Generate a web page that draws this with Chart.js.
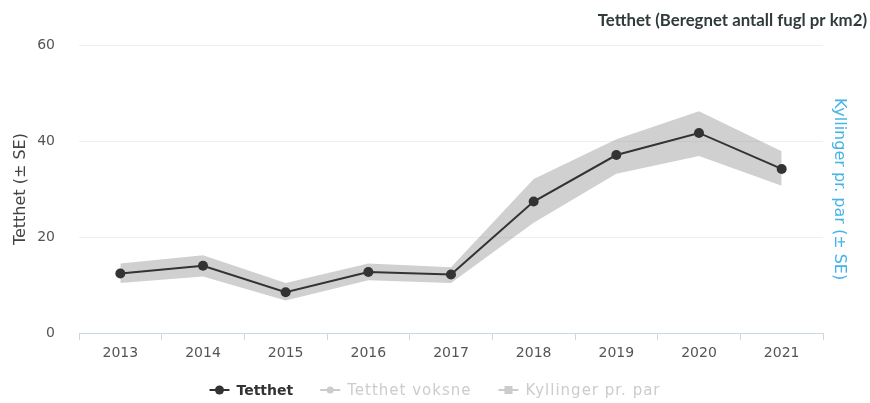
<!DOCTYPE html>
<html>
<head>
<meta charset="utf-8">
<script src="https://cdn.jsdelivr.net/npm/chart.js@4.4.0/dist/chart.umd.min.js"></script>
<style>
  html, body { margin: 0; padding: 0; background: #fff; }
  #wrap { width: 870px; height: 403px; }
</style>
</head>
<body>
<div id="wrap"><canvas id="myChart"></canvas></div>
<script>
const years = ['2013', '2014', '2015', '2016', '2017', '2018', '2019', '2020', '2021'];
const tetthet = [12.4, 14.0, 8.5, 12.7, 12.2, 27.4, 37.1, 41.7, 34.2];
const tetthetUpper = [14.5, 16.2, 10.4, 14.5, 13.7, 32.1, 40.4, 46.2, 37.9];
const tetthetLower = [10.4, 11.8, 6.8, 11.0, 10.4, 23.0, 33.2, 36.9, 30.7];
const yTicks = [0, 20, 40, 60];
const legendNames = ['Tetthet', 'Tetthet voksne', 'Kyllinger pr. par'];
const legendShapes = ['circle', 'dot', 'square'];
const legendColors = ['#333333', '#cccccc', '#cccccc'];

// legend at the bottom, first series (shown) in bold, the two hidden ones greyed out
const bottomLegend = {
    id: 'bottomLegend',
    afterDraw(chart) {
        const c = chart.ctx;
        const y = 390;
        const fonts = ['bold 14px "DejaVu Sans"', '15px "DejaVu Sans"', '15px "DejaVu Sans"'];
        const spacing = ['0px', '1px', '1px'];
        c.save();
        const widths = legendNames.map(function (t, i) {
            c.font = fonts[i];
            c.letterSpacing = spacing[i];
            return c.measureText(t).width;
        });
        let total = 0;
        widths.forEach(function (w) { total += 20 + 7 + w; });
        total += 27 * (widths.length - 1);
        let x = (chart.width - total) / 2;
        legendNames.forEach(function (t, i) {
            c.strokeStyle = legendColors[i];
            c.fillStyle = legendColors[i];
            c.lineWidth = 2;
            c.beginPath(); c.moveTo(x, y); c.lineTo(x + 20, y); c.stroke();
            c.beginPath();
            if (legendShapes[i] === 'square') c.rect(x + 6, y - 4, 8, 8);
            else if (legendShapes[i] === 'dot') c.arc(x + 10, y, 3.5, 0, Math.PI * 2);
            else c.arc(x + 10, y, 4.5, 0, Math.PI * 2);
            c.fill();
            c.font = fonts[i];
            c.letterSpacing = spacing[i];
            c.textBaseline = 'middle';
            c.textAlign = 'left';
            c.fillText(t, x + 27, y + 1);
            x += 27 + widths[i] + 27;
        });
        c.restore();
    }
};

const ctx = document.getElementById('myChart');

new Chart(ctx, {
    type: 'line',
    data: {
        labels: years,
        datasets: [{
            label: 'Tetthet',
            data: tetthet,
            borderColor: '#333333',
            backgroundColor: '#333333',
            borderWidth: 2,
            pointRadius: 5,
            pointBackgroundColor: '#333333',
            pointBorderWidth: 0,
            fill: false,
            tension: 0
        }, {
            label: 'SE upper',
            data: tetthetUpper,
            borderWidth: 0,
            pointRadius: 0,
            backgroundColor: 'rgba(150,150,150,0.45)',
            fill: '+1',
            tension: 0
        }, {
            label: 'SE lower',
            data: tetthetLower,
            borderWidth: 0,
            pointRadius: 0,
            backgroundColor: 'rgba(150,150,150,0.45)',
            fill: false,
            tension: 0
        }]
    },
    plugins: [bottomLegend],
    options: {
        responsive: true,
        maintainAspectRatio: false,
        animation: false,
        layout: { padding: { left: 0, right: 3, top: 0, bottom: 35 } },
        plugins: {
            tooltip: { enabled: false },
            legend: { display: false },
            title: {
                display: true,
                text: 'Tetthet (Beregnet antall fugl pr km2)',
                align: 'end',
                color: '#2f3b3b',
                font: { family: 'Lato', size: 16.8, weight: 'bold' },
                padding: { top: 11, bottom: 14 }
            }
        },
        scales: {
            x: {
                offset: true,
                afterFit: function (scale) { scale.height = 35; },
                grid: {
                    offset: true,
                    drawOnChartArea: false,
                    drawTicks: true,
                    tickLength: 7,
                    color: '#c9d8e6'
                },
                border: { display: true, color: '#c9d8e6', width: 1 },
                ticks: {
                    color: '#555555',
                    font: { family: 'DejaVu Sans', size: 14 },
                    padding: 5,
                    maxRotation: 0
                }
            },
            y: {
                min: 0,
                max: 60,
                afterBuildTicks: function (scale) {
                    scale.ticks = yTicks.map(function (v) { return { value: v }; });
                },
                afterFit: function (scale) { scale.width = 79; },
                grid: { color: '#efefef', drawTicks: false },
                border: { display: false },
                ticks: {
                    color: '#555555',
                    font: { family: 'DejaVu Sans', size: 14 },
                    padding: 24
                },
                title: {
                    display: true,
                    text: 'Tetthet (± SE)',
                    color: '#444444',
                    font: { family: 'DejaVu Sans', size: 16 },
                    padding: { top: 11, bottom: 0 }
                }
            },
            y1: {
                position: 'right',
                display: true,
                min: 0,
                max: 60,
                afterFit: function (scale) { scale.width = 44; },
                grid: { display: false, drawTicks: false },
                border: { display: false },
                ticks: { display: false },
                title: {
                    display: true,
                    text: 'Kyllinger pr. par (± SE)',
                    color: '#45b3e6',
                    font: { family: 'DejaVu Sans', size: 16 },
                    padding: { top: 18, bottom: 0 }
                }
            }
        }
    }
});
</script>
</body>
</html>
